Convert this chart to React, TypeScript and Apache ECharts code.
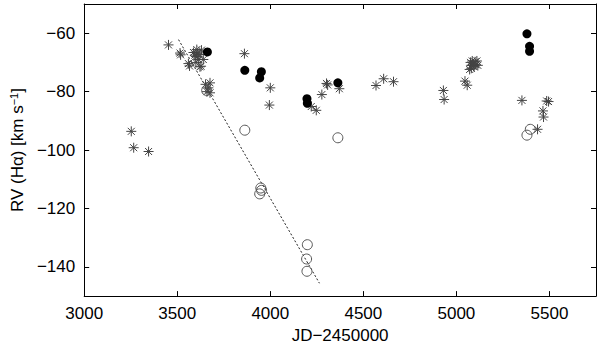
import React, { useEffect, useRef } from "react";
import * as echarts from "echarts";

const xTicks = [3000, 3500, 4000, 4500, 5000, 5500];
const yTicks = [-140, -120, -100, -80, -60];

const starPoints: [number, number][] = [
  [3253, -93.6], [3266, -99.2], [3346, -100.5],
  [3453, -64], [3515, -66.8], [3518, -67.4],
  [3560, -70.4], [3566, -71.2],
  [3587, -66.6], [3595, -67.5], [3600, -68], [3605, -65.6], [3610, -66.8],
  [3615, -69], [3622, -67.3], [3630, -65.8], [3640, -69], [3628, -71.3],
  [3600, -70], [3622, -71.5],
  [3652, -77.5], [3667, -78.7], [3676, -77], [3676, -80.4], [3660, -80],
  [3861, -67],
  [4000, -78.7], [3995, -84.6],
  [4220, -85.1], [4247, -86.4], [4277, -81], [4302, -77.2], [4308, -77.7], [4371, -79],
  [4568, -77.9], [4609, -75.6], [4662, -76.6],
  [4930, -79.6], [4934, -82.7],
  [5046, -76.4], [5058, -77.8],
  [5071, -72.4], [5076, -70], [5080, -71], [5085, -69.5], [5090, -70.5],
  [5095, -71.5], [5100, -69.8], [5105, -70.8], [5110, -69.5], [5115, -71], [5080, -72],
  [5352, -83],
  [5485, -83.2], [5495, -83.4],
  [5465, -86.6], [5468, -88.7],
  [5436, -92.9],
];

const filledPoints: [number, number][] = [
  [3662, -66.4], [3863, -72.7], [3952, -73.2], [3943, -75.3],
  [4197, -82.4], [4199, -84], [4363, -77],
  [5379, -60.2], [5393, -64.5], [5393, -66.2],
];

const openPoints: [number, number][] = [
  [3658, -79.6], [3863, -93.2], [4363, -95.8],
  [3949, -113], [3953, -113.8], [3943, -115],
  [4199, -132.4], [4195, -137.3], [4197, -141.5],
  [5397, -92.9], [5379, -94.9],
];

const fitLine: [number, number][] = [
  [3507, -62.2],
  [4264, -145.6],
];

const starSymbol =
  "path://M0,5 L10,5 M5,0 L5,10 M1.5,1.5 L8.5,8.5 M1.5,8.5 L8.5,1.5";

const FONT = "'Liberation Sans', Arial, sans-serif";
const FS = 17;
const minus = (v: number) => String(v).replace("-", "\u2212");

export default function App() {
  const ref = useRef<HTMLDivElement>(null);
  useEffect(() => {
    if (!ref.current) return;
    const chart = echarts.init(ref.current, undefined, { renderer: "svg" });
    const lineCommon = { show: true, onZero: false, lineStyle: { color: "#000", width: 1 } };
    const xTick = { show: true, inside: true, length: 5, customValues: xTicks, lineStyle: { color: "#000", width: 1 } };
    const yTick = { show: true, inside: true, length: 5, customValues: yTicks, lineStyle: { color: "#000", width: 1 } };
    chart.setOption({
      animation: false,
      backgroundColor: "#fff",
      grid: { left: 82, right: 4, top: 4, bottom: 51 },
      xAxis: [
        {
          type: "value", position: "bottom", min: 3000, max: 5750,
          axisLine: lineCommon, axisTick: xTick, splitLine: { show: false },
          axisLabel: {
            color: "#000", fontFamily: FONT, fontSize: FS, margin: 9,
            customValues: xTicks,
            formatter: (v: number) => String(v),
          },
          name: "JD\u22122450000", nameLocation: "middle", nameGap: 29,
          nameTextStyle: { color: "#000", fontFamily: FONT, fontSize: FS },
        },
        {
          type: "value", position: "top", min: 3000, max: 5750,
          axisLine: lineCommon, axisTick: xTick, splitLine: { show: false },
          axisLabel: { show: false },
        },
      ],
      yAxis: [
        {
          type: "value", position: "left", min: -150, max: -50,
          axisLine: lineCommon, axisTick: yTick, splitLine: { show: false },
          axisLabel: {
            color: "#000", fontFamily: FONT, fontSize: FS, margin: 9,
            customValues: yTicks,
            formatter: (v: number) => minus(v),
          },
          name: "{a|RV (H\u03b1) [km s}{b|\u22121}{a|]}",
          nameLocation: "middle", nameGap: 57,
          nameTextStyle: {
            color: "#000", fontFamily: FONT, fontSize: FS,
            rich: {
              a: { fontFamily: FONT, fontSize: FS, color: "#000" },
              b: { fontFamily: FONT, fontSize: 11, color: "#000", verticalAlign: "top", padding: [0, 0, 8, 0] },
            },
          },
        },
        {
          type: "value", position: "right", min: -150, max: -50,
          axisLine: lineCommon, axisTick: yTick, splitLine: { show: false },
          axisLabel: { show: false },
        },
      ],
      series: [
        {
          type: "line", data: fitLine, showSymbol: false, symbol: "none",
          lineStyle: { color: "#222", width: 1, type: [2, 2] }, z: 1,
        },
        {
          type: "scatter", data: starPoints, symbol: starSymbol, symbolSize: 10,
          itemStyle: { color: "none", borderColor: "#444", borderWidth: 1, opacity: 1 }, z: 2,
        },
        {
          type: "scatter", data: openPoints, symbol: "circle", symbolSize: 10,
          itemStyle: { color: "rgba(255,255,255,0)", borderColor: "#555", borderWidth: 1, opacity: 1 }, z: 3,
        },
        {
          type: "scatter", data: filledPoints, symbol: "circle", symbolSize: 9,
          itemStyle: { color: "#000", opacity: 1 }, z: 4,
        },
      ],
    });
    return () => chart.dispose();
  }, []);
  return (
    <div
      ref={ref}
      style={{ position: "fixed", left: 0, top: 0, width: 600, height: 349, background: "#fff" }}
    />
  );
}
